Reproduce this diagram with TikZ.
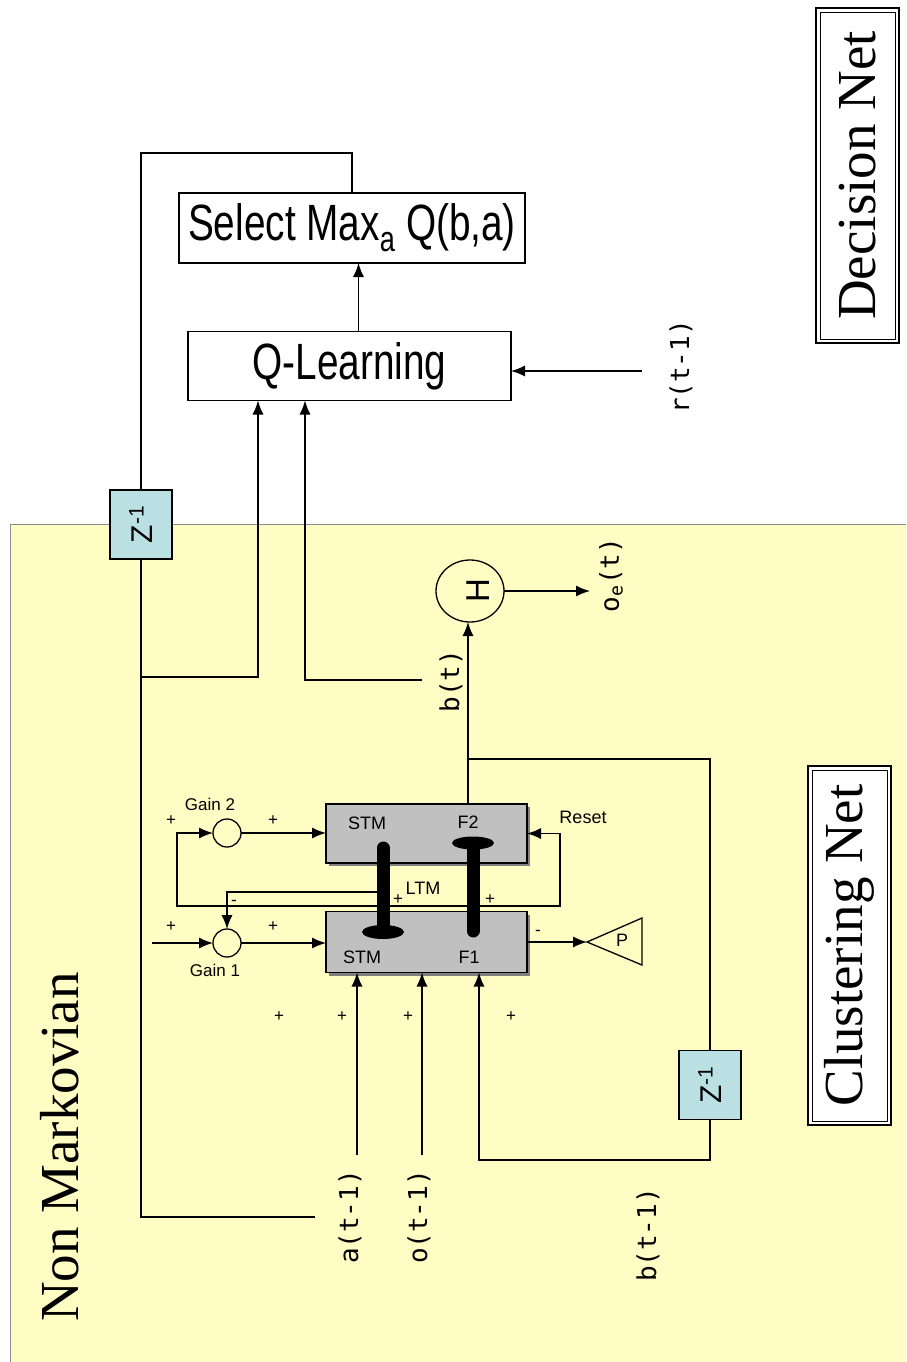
\documentclass[tikz,border=0pt]{standalone}
\usepackage{fontspec}
\setmainfont{Liberation Serif}
\setsansfont{Liberation Sans}
\newfontfamily\monof{DejaVu Sans Mono}
\usetikzlibrary{arrows.meta,shapes.geometric,shadows,calc}
\definecolor{ylw}{RGB}{255,252,196}
\definecolor{zblue}{RGB}{186,224,228}
\definecolor{artgray}{RGB}{192,192,192}
\begin{document}
\begin{tikzpicture}[x=1pt,y=-1pt,line width=1.3pt,
  arr/.style={-{Latex[length=14pt,width=11pt]}},
  darr/.style={{Latex[length=14pt,width=11pt]}-{Latex[length=14pt,width=11pt]}},
  every node/.style={inner sep=0pt,outer sep=0pt},
  plainbox/.style={draw,rectangle,line width=1.3pt},
  titlebox/.style={draw,rectangle,fill=white,line width=2.5pt},
  zbox/.style={draw,rectangle,fill=zblue,line width=1.3pt,minimum width=62,minimum height=69},
  artbox/.style={draw,rectangle,fill=artgray,line width=1.3pt,minimum width=201,
     drop shadow={shadow xshift=3pt,shadow yshift=-3pt,fill=black!50,opacity=1}},
  sumnode/.style={draw,circle,minimum size=28,line width=1.3pt},
  lbl/.style={font=\monof\fontsize{26}{26}\selectfont,rotate=90},
  sm/.style={font=\sffamily\fontsize{18}{18}\selectfont},
  pm/.style={font=\sffamily\fontsize{17}{17}\selectfont},
  ttl/.style={font=\rmfamily\fontsize{55}{55}\selectfont,rotate=90},
  ztxt/.style={font=\sffamily\fontsize{30}{30}\selectfont,rotate=90},
  bar/.style={line width=13pt,line cap=round}]
% canvas
\fill[white] (0,0) rectangle (906,1362);
\path[use as bounding box] (0,0) rectangle (906,1362);
\fill[ylw] (10,524) rectangle (906,1362);
\draw[black!45,line width=1pt] (10,1362) -- (10,524) -- (906,524);

% title boxes
\node[titlebox,minimum width=83,minimum height=335] (dec) at (857.5,175.5) {};
\draw[line width=0.8pt] ($(dec.south west)+(4,-4)$) rectangle ($(dec.north east)+(-4,4)$);
\node[ttl] (dect) at (dec) {Decision Net};
\node[titlebox,minimum width=83,minimum height=359] (clu) at (849.5,945.5) {};
\draw[line width=0.8pt] ($(clu.south west)+(4,-4)$) rectangle ($(clu.north east)+(-4,4)$);
\node[ttl] (clut) at (clu) {Clustering Net};
\node[ttl] (nm) at (60,1147) {Non Markovian};

% decision net
\node[plainbox,fill=white,minimum width=346,minimum height=70] (sel) at (352,228)
  {\sffamily\fontsize{51}{51}\selectfont\scalebox{0.76}[1]{Select Max\textsubscript{a} Q(b,a)}};
\node[plainbox,fill=white,minimum width=323,minimum height=69] (ql) at (349.5,366)
  {\sffamily\fontsize{51}{51}\selectfont\scalebox{0.76}[1]{Q-Learning}};
\draw[arr] ([xshift=9pt]ql.north) -- ([xshift=9pt]ql.north |- sel.south);
\coordinate (rs) at (642,371);
\draw[arr] (rs) -- (rs -| ql.east);
\node[lbl] (rl) at (681,367) {r(t-1)};

% delay boxes
\node[zbox] (z1) at (141,524.5) {};
\node[ztxt] at (z1) {Z\textsuperscript{-1}};
\node[zbox] (z2) at (710,1085) {};
\node[ztxt] at (z2) {Z\textsuperscript{-1}};

\draw (sel.north) -- ++(0,-40) -| (z1.north);
\coordinate (aend) at (315,1217);
\draw (z1.south) |- (aend);
\coordinate (jq) at (141,677);
\draw[arr] (jq) -| ([xshift=-91.5pt]ql.south);
\coordinate (bt) at (422,680);
\draw[arr] (bt) -| ([xshift=-44.5pt]ql.south);
\node[lbl] (btl) at (451,681) {b(t)};

% H
\node[draw,ellipse,minimum width=68,minimum height=62,line width=1.3pt] (H) at (470,591) {};
\node[font=\sffamily\fontsize{33}{33}\selectfont,rotate=90] at (478,591) {H};
\coordinate (oe) at (590,591);
\draw[arr] (H.east) -- (oe);
\node[lbl] (oel) at (611,575) {o\textsubscript{e}(t)};

% ART boxes
\node[artbox,minimum height=59] (f2) at (426.5,833.5) {};
\node[artbox,minimum height=61] (f1) at (426.5,942) {};
\node[sm] at (367,823) {STM};
\node[sm] at (468,822) {F2};
\node[sm] at (362,957) {STM};
\node[sm] at (469,957) {F1};
\node[sm] at (583,817) {Reset};
\node[sm] at (423,888) {LTM};

\coordinate (hin) at (468,804);
\draw[arr] (hin) -- (hin |- H.south);
\coordinate (bj) at (468,759);
\draw (bj) -| (z2.north);
\coordinate (bl) at (479,1160);
\draw[arr] (z2.south) |- (bl) -- (bl |- f1.south);

% LTM bars
\draw[bar] (383,848) -- (383,930);
\fill (383,932) ellipse [x radius=21,y radius=7];
\draw[bar] (473,845) -- (473,931);
\fill (473,843) ellipse [x radius=21,y radius=6.5];

% gains
\node[sumnode] (g2) at (227,833) {};
\node[sumnode] (g1) at (227,943) {};
\node[font=\sffamily\fontsize{17}{17}\selectfont] at (210,804) {Gain 2};
\node[font=\sffamily\fontsize{17}{17}\selectfont] at (215,970) {Gain 1};
\draw[arr] (g2.east) -- (g2.east -| f2.west);
\draw[arr] (g1.east) -- (g1.east -| f1.west);
\coordinate (in1) at (152,943);
\draw[arr] (in1) -- (g1.west);
\coordinate (rs1) at (560,906);
\coordinate (rs2) at (177,906);
\draw[darr] (f2.east) -| (rs1) -- (rs2) |- (g2.west);
\coordinate (ltm) at (377,892);
\draw[arr] (ltm) -| (g1.north);

% P
\coordinate (ptip) at (587,942);
\draw (ptip) -- (642,918) -- (642,965) -- cycle;
\node[sm] at (622,940) {P};
\draw[arr] (f1.east) -- (ptip);

% inputs
\coordinate (ain) at (357,1155);
\draw[arr] (ain) -- (ain |- f1.south);
\coordinate (oin) at (422,1155);
\draw[arr] (oin) -- (oin |- f1.south);
\node[lbl] (al) at (350,1217) {a(t-1)};
\node[lbl] (ol) at (419,1217) {o(t-1)};
\node[lbl] (bl2) at (648,1235) {b(t-1)};

% signs
\foreach \p in {(171,821),(273,821),(171,927),(273,927),(398,900),(490,900),(279,1017),(342,1017),(408,1017),(511,1017)}
  \node[pm] at \p {+};
\node[pm] at (234,903) {-};
\node[pm] at (538,933) {-};
\end{tikzpicture}
\end{document}
